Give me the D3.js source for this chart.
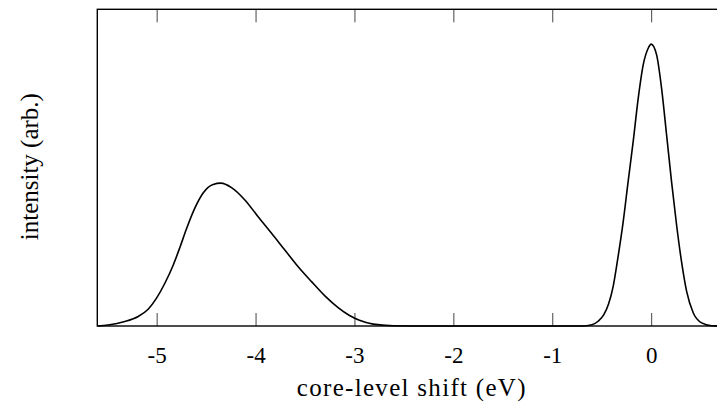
<!DOCTYPE html>
<meta charset="utf-8">
<style>
    body {
        margin: 0;
        background: #fff;
    }

    text {
        font-family: "Liberation Serif", "Times New Roman", serif;
        fill: #000;
    }
</style>

<body>
    <script src="https://cdn.jsdelivr.net/npm/d3@7"></script>
    <script>

        // core-level shift (eV) -> intensity
        var shiftA = [-5.6, -5.49, -5.322, -5.187, -5.086, -5.001, -4.917, -4.833, -4.765, -4.698, -4.614,
            -4.53, -4.429, -4.351, -4.243, -4.108, -3.974, -3.838, -3.704, -3.569, -3.434, -3.299,
            -3.165, -3.05, -2.95, -2.811, -2.609, -2.3];
        var intensA = [0, 0.003, 0.014, 0.03, 0.053, 0.088, 0.135, 0.192, 0.248, 0.307, 0.372,
            0.42, 0.447, 0.451, 0.437, 0.398, 0.345, 0.293, 0.24, 0.187, 0.14, 0.095,
            0.058, 0.033, 0.018, 0.006, 0.001, 0];

        var shiftB = [-2.3, -0.7, -0.6, -0.536, -0.48, -0.43, -0.384, -0.334, -0.283, -0.233, -0.182, -0.131, -0.081,
            -0.03, 0, 0.055, 0.105, 0.156, 0.206, 0.257, 0.307, 0.358, 0.425, 0.51, 0.611, 0.7];
        var intensB = [0, 0, 0.004, 0.015, 0.035, 0.07, 0.125, 0.22, 0.329, 0.456, 0.582, 0.719, 0.824,
            0.877, 0.89, 0.856, 0.751, 0.603, 0.456, 0.319, 0.203, 0.11, 0.042, 0.01, 0.001, 0];

        var xTicks = [-5, -4, -3, -2, -1, 0];
        var xTickLabels = ["-5", "-4", "-3", "-2", "-1", "0"];

        var data = shiftA.map((s, i) => ({ x: s, y: intensA[i] }))
            .concat(shiftB.map((s, i) => ({ x: s, y: intensB[i] })));

        var margin = { top: 9.3, right: -3.4, bottom: 75, left: 97.3 },
            W = 717, H = 401,
            width = W - margin.left - margin.right,
            height = H - margin.top - margin.bottom;

        var x = d3.scaleLinear().domain([-5.6, 0.7]).range([0, width]);
        var y = d3.scaleLinear().domain([0, 1]).range([height, 0]);

        var svg = d3.select("body").append("svg")
            .attr("width", W)
            .attr("height", H)
            .append("g")
            .attr("transform", "translate(" + margin.left + "," + margin.top + ")");

        // inward ticks on top and bottom
        var tickLen = 13;
        svg.append("g")
            .attr("transform", "translate(0," + height + ")")
            .call(d3.axisBottom(x).tickValues(xTicks).tickSizeInner(-tickLen).tickSizeOuter(0).tickPadding(37)
                .tickFormat((d, i) => xTickLabels[i]))
            .attr("font-family", "Liberation Serif, serif")
            .attr("font-size", 23)
            .call(g => g.select(".domain").remove())
            .call(g => g.selectAll(".tick line").attr("stroke", "#444").attr("stroke-width", 1))
            .call(g => g.selectAll(".tick text").attr("dy", "0"));

        svg.append("g")
            .call(d3.axisTop(x).tickValues(xTicks).tickSizeInner(-tickLen).tickSizeOuter(0).tickFormat(""))
            .call(g => g.select(".domain").remove())
            .call(g => g.selectAll(".tick line").attr("stroke", "#444").attr("stroke-width", 1));

        var line = d3.line()
            .x(d => x(d.x))
            .y(d => y(d.y))
            .curve(d3.curveMonotoneX);

        svg.append("path")
            .datum(data)
            .attr("d", line)
            .attr("fill", "none")
            .attr("stroke", "#000")
            .attr("stroke-width", 1.6);

        // frame
        svg.append("rect")
            .attr("width", width)
            .attr("height", height)
            .attr("fill", "none")
            .attr("stroke", "#000")
            .attr("stroke-width", 1.4);

        svg.append("text")
            .attr("x", width / 2 + 3)
            .attr("y", height + 70)
            .attr("text-anchor", "middle")
            .style("font-size", "25px")
            .style("letter-spacing", "1.3px")
            .text("core-level shift (eV)");

        svg.append("text")
            .attr("transform", "rotate(-90)")
            .attr("x", -height / 2 + 1)
            .attr("y", -59)
            .attr("text-anchor", "middle")
            .style("font-size", "25px")
            .text("intensity (arb.)");

    </script>
</body>
